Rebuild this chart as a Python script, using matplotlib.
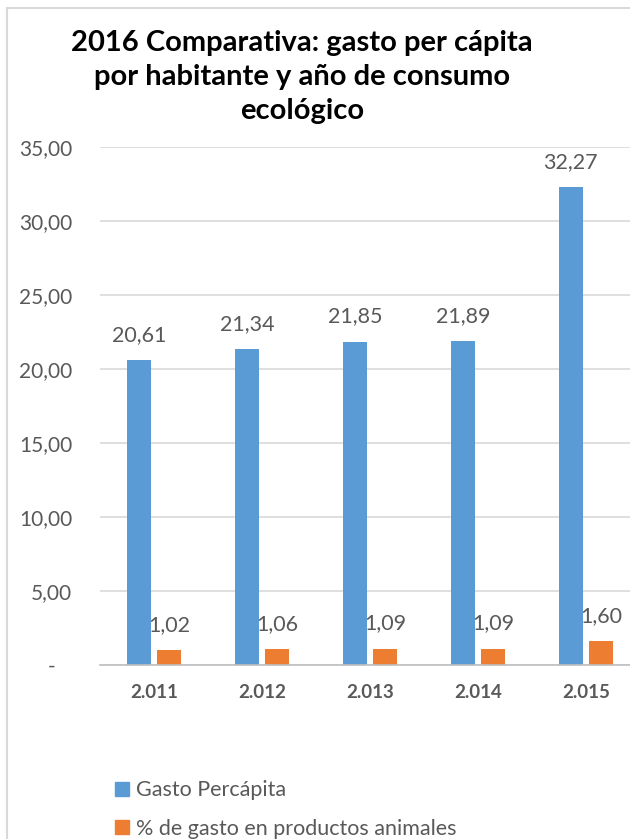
import matplotlib
matplotlib.use("Agg")
import matplotlib.pyplot as plt
from matplotlib.lines import Line2D
from matplotlib.patches import Patch
import numpy as np

# --- data ---
years = ["2.011", "2.012", "2.013", "2.014", "2.015"]
gasto_percapita = [20.61, 21.34, 21.85, 21.89, 32.27]
pct_animales = [1.02, 1.06, 1.09, 1.09, 1.60]
series_names = ["Gasto Percápita", "% de gasto en productos animales"]
yticks = [0, 5, 10, 15, 20, 25, 30, 35]

BLUE = "#5B9BD5"
ORANGE = "#ED7D31"
GREY = "#595959"

plt.rcParams["font.family"] = ["Lato", "DejaVu Sans"]


def fmt(v):
    return f"{v:.2f}".replace(".", ",")


fig = plt.figure(figsize=(6.3, 8.39), dpi=100)
fig.patch.set_facecolor("white")

# plot area runs past the right edge, like the cropped original
ax = fig.add_axes([100 / 630, 1 - 665 / 839, 540 / 630, (665 - 147) / 839])

x = np.arange(len(years))
w = 0.225
off = 0.14
b1 = ax.bar(x - off, gasto_percapita, w, color=BLUE, zorder=3)
b2 = ax.bar(x + off, pct_animales, w, color=ORANGE, zorder=3)

for bars, vals in ((b1, gasto_percapita), (b2, pct_animales)):
    for r, v in zip(bars, vals):
        ax.annotate(fmt(v), (r.get_x() + r.get_width() / 2, v),
                    xytext=(0, 11), textcoords="offset points",
                    ha="center", va="bottom", fontsize=15.5, color=GREY)

ax.set_xlim(-0.5, len(years) - 0.5)
ax.set_ylim(0, 35)
ax.set_yticks(yticks)
ax.set_yticklabels(["-   " if t == 0 else fmt(t) for t in yticks],
                   fontsize=15, color=GREY)
ax.set_xticks(x)
ax.set_xticklabels(years, fontsize=13.5, fontweight="bold", color=GREY)
ax.tick_params(axis="y", length=0, pad=20)
ax.tick_params(axis="x", length=0, pad=14)

ax.grid(axis="y", color="#D9D9D9", linewidth=1.2, zorder=0)
for s in ("top", "right", "left"):
    ax.spines[s].set_visible(False)
ax.spines["bottom"].set_color("#BFBFBF")
ax.spines["bottom"].set_linewidth(1.2)
ax.spines["bottom"].set_zorder(4)

fig.text(302 / 630, 1 - 77 / 839,
         "2016 Comparativa: gasto per cápita\npor habitante y año de consumo\necológico",
         ha="center", va="center", fontsize=21, fontweight="bold",
         color="black", linespacing=1.36)

handles = [Patch(color=BLUE), Patch(color=ORANGE)]
fig.legend(handles, series_names, loc="upper left",
           bbox_to_anchor=(96 / 630, 1 - 761 / 839), frameon=False,
           fontsize=15.5, labelcolor=GREY, handlelength=0.65, handleheight=0.65,
           handletextpad=0.3, labelspacing=0.85)

# chart frame (top and left edges visible in the crop)
fig.add_artist(Line2D([7 / 630, 7 / 630], [0, 1 - 8 / 839],
                      color="#D9D9D9", linewidth=1.5))
fig.add_artist(Line2D([7 / 630, 1], [1 - 8 / 839, 1 - 8 / 839],
                      color="#D9D9D9", linewidth=1.5))

fig.savefig("out.png", dpi=100, facecolor="white")
